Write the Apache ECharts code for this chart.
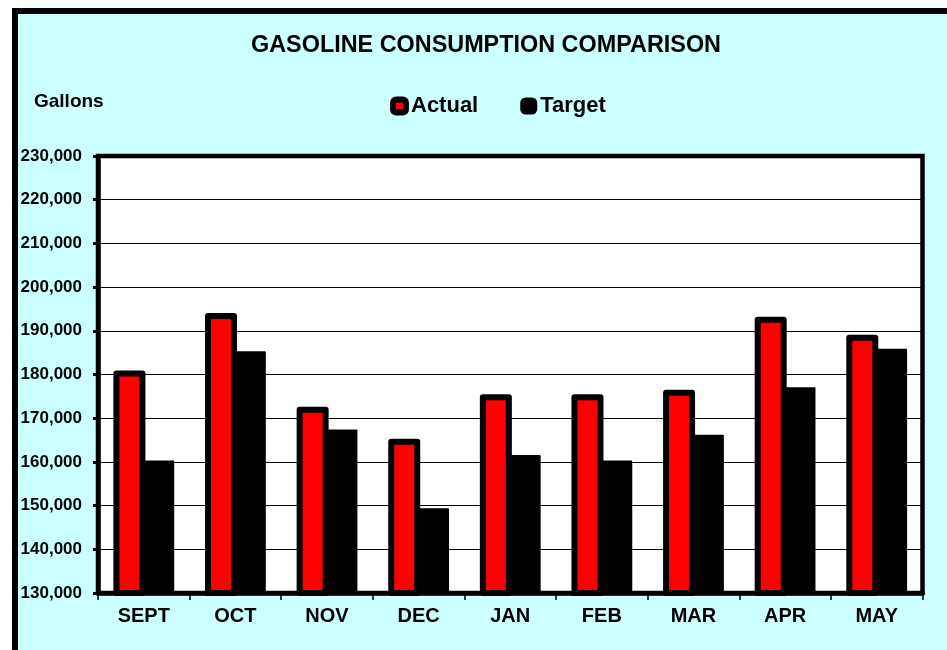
<!DOCTYPE html>
<html>
<head>
<meta charset="utf-8">
<script src="https://cdn.jsdelivr.net/npm/echarts@6/dist/echarts.min.js"></script>
<style>
html,body{margin:0;padding:0;background:#ffffff;}
#chart{width:947px;height:650px;}
</style>
</head>
<body>
<div id="chart"></div>
<script>
var categories = ['SEPT', 'OCT', 'NOV', 'DEC', 'JAN', 'FEB', 'MAR', 'APR', 'MAY'];
var actualValues = [180900, 194100, 172600, 165300, 175500, 175500, 176500, 193200, 189100];
var targetValues = [160300, 185300, 167400, 149400, 161600, 160300, 166200, 177100, 185900];
var seriesNames = ['Actual', 'Target'];
var titleText = 'GASOLINE CONSUMPTION COMPARISON';
var yAxisName = 'Gallons';
var yMin = 130000, yMax = 230000, yStep = 10000;

var FONT = '"Liberation Sans", Arial, sans-serif';
function fmt(v) { return String(v).replace(/\B(?=(\d{3})+(?!\d))/g, ','); }

var chart = echarts.init(document.getElementById('chart'), null, {renderer: 'canvas'});
chart.setOption({
  animation: false,
  backgroundColor: '#ffffff',
  graphic: [{
    type: 'rect', z: -10, silent: true,
    shape: {x: 15, y: 11, width: 1100, height: 800},
    style: {fill: '#CCFFFF', stroke: '#000000', lineWidth: 6}
  }],
  title: [{
    text: titleText, left: 251, top: 34, padding: 0,
    textStyle: {fontFamily: FONT, fontWeight: 'bold', fontSize: 23.4, color: '#000'}
  }, {
    text: yAxisName, left: 34, top: 92, padding: 0,
    textStyle: {fontFamily: FONT, fontWeight: 'bold', fontSize: 19, color: '#000'}
  }],
  legend: {
    left: 390, top: 95, padding: 0, itemGap: 42,
    itemWidth: 13, itemHeight: 13, icon: 'roundRect',
    textStyle: {fontFamily: FONT, fontWeight: 'bold', fontSize: 22, color: '#000'},
    data: [
      {name: seriesNames[0], itemStyle: {color: '#FF0000', borderColor: '#000', borderWidth: 6}},
      {name: seriesNames[1], itemStyle: {color: '#000000', borderColor: '#000', borderWidth: 4}}
    ]
  },
  grid: {
    left: 98, top: 156, right: 24.5, bottom: 57,
    show: true, backgroundColor: '#ffffff', borderColor: '#000', borderWidth: 4.5
  },
  xAxis: {
    type: 'category', data: categories,
    axisLine: {lineStyle: {color: '#000', width: 4.5}},
    axisTick: {show: true, length: 7, lineStyle: {color: '#000', width: 1.5}},
    axisLabel: {margin: 13, color: '#000', fontFamily: FONT, fontWeight: 'bold', fontSize: 20}
  },
  yAxis: {
    type: 'value', min: yMin, max: yMax, interval: yStep,
    axisLine: {show: true, lineStyle: {color: '#000', width: 4.5}},
    axisTick: {show: true, length: 5, lineStyle: {color: '#000', width: 3}},
    splitLine: {show: true, lineStyle: {color: '#000', width: 1.2}},
    axisLabel: {margin: 16, color: '#000', fontFamily: FONT, fontWeight: 'bold', fontSize: 17, formatter: fmt}
  },
  series: [{
    name: seriesNames[0], type: 'bar', data: actualValues,
    barWidth: 32, barGap: '-10%',
    itemStyle: {color: '#FF0000', borderColor: '#000', borderWidth: 6, borderJoin: 'round'}
  }, {
    name: seriesNames[1], type: 'bar', data: targetValues,
    barWidth: 32, barGap: '-10%',
    itemStyle: {color: '#000000', borderColor: '#000', borderWidth: 2, borderJoin: 'round'}
  }]
});
</script>
</body>
</html>
